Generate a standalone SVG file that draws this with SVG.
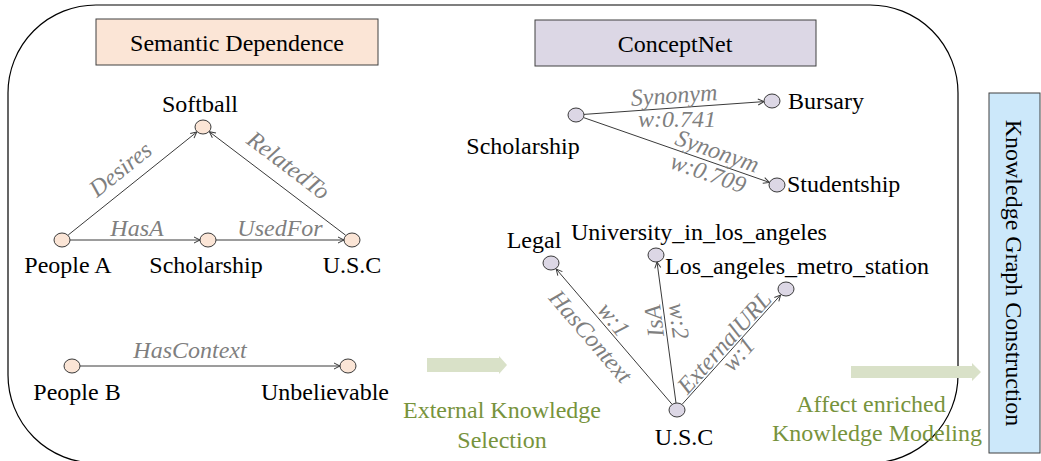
<svg xmlns="http://www.w3.org/2000/svg" width="1041" height="461" viewBox="0 0 1041 461">
<defs>
<style>
text{font-family:"Liberation Serif","Times New Roman",serif;font-size:24px;fill:#000}
.lbl{font-style:italic;fill:#7f7f7f}
.grn{fill:#77933c}
.mid{text-anchor:middle}
.edge{stroke:#3a3a3a;stroke-width:1;fill:none;marker-end:url(#ah)}
.pn{fill:#fbe5d6;stroke:#3a3a3a;stroke-width:1}
.cn{fill:#dcd7e5;stroke:#3a3a3a;stroke-width:1}
.box{stroke:#404040;stroke-width:1}
.garrow{fill:#d9e1c8}
</style>
<marker id="ah" markerWidth="8" markerHeight="8" refX="7" refY="4" orient="auto" markerUnits="userSpaceOnUse">
<path d="M1,1 L7,4 L1,7" fill="none" stroke="#3a3a3a" stroke-width="1"/>
</marker>
</defs>
<rect width="1041" height="461" fill="#fff"/>
<rect id="frame" x="8" y="5" width="950" height="458" rx="88" ry="88" fill="none" stroke="#000" stroke-width="1.2"/>

<g id="semantic-dependence">
<rect class="box" x="96" y="19" width="282" height="46" fill="#fbe5d6"/>
<text class="mid" x="237" y="51">Semantic Dependence</text>
</g>
<g id="conceptnet">
<rect class="box" x="535" y="20" width="281" height="46" fill="#dcd7e5"/>
<text class="mid" x="675" y="52">ConceptNet</text>
</g>
<g id="kg-construction">
<rect class="box" x="989" y="93" width="51" height="360" fill="#cce8fa"/>
<text class="mid" transform="translate(1014,273) rotate(90)" y="8">Knowledge Graph Construction</text>
</g>

<g id="connectors">
<line class="edge" x1="68.2" y1="235" x2="196.8" y2="132"/>
<line class="edge" x1="345.6" y1="235.2" x2="209.4" y2="131.8"/>
<line class="edge" x1="70" y1="240" x2="200" y2="240"/>
<line class="edge" x1="216" y1="240" x2="344" y2="240"/>
<line class="edge" x1="80" y1="366" x2="340" y2="366"/>
<line class="edge" x1="584" y1="114.4" x2="764" y2="101.6"/>
<line class="edge" x1="583.6" y1="117.6" x2="769.4" y2="182.4"/>
<line class="edge" x1="671.8" y1="404" x2="556.2" y2="269"/>
<line class="edge" x1="676" y1="403" x2="657" y2="262"/>
<line class="edge" x1="682.4" y1="404" x2="780.6" y2="295"/>
<text class="lbl mid" transform="translate(121,170) rotate(-38.7)" y="7">Desires</text>
<text class="lbl mid" transform="translate(288,166) rotate(37.2)" y="7">RelatedTo</text>
<text class="lbl mid" x="137" y="236">HasA</text>
<text class="lbl mid" x="280" y="236">UsedFor</text>
<text class="lbl mid" x="190" y="358">HasContext</text>
<text class="lbl mid" transform="translate(674,96) rotate(-4)" y="7">Synonym</text>
<text class="lbl mid" x="677" y="127">w:0.741</text>
<text class="lbl mid" transform="translate(717,152) rotate(19.2)" y="7">Synonym</text>
<text class="lbl mid" transform="translate(708,174) rotate(19.2)" y="7">w:0.709</text>
<text class="lbl mid" transform="translate(590,337) rotate(49.4)" y="7">HasContext</text>
<text class="lbl mid" transform="translate(613,320) rotate(52)" y="7">w:1</text>
<text class="lbl mid" transform="translate(655,321) rotate(-97)" y="7">IsA</text>
<text class="lbl mid" transform="translate(678,321) rotate(82.3)" y="7">w:2</text>
<text class="lbl mid" transform="translate(725,343) rotate(-48)" y="7">ExternalURL</text>
<text class="lbl mid" transform="translate(739,355) rotate(-48)" y="7">w:1</text>
</g>

<g id="n-softball"><ellipse class="pn" cx="203" cy="127" rx="8" ry="7"/><text class="mid" x="200" y="112">Softball</text></g>
<g id="n-peopleA"><ellipse class="pn" cx="62" cy="240" rx="8" ry="7"/><text class="mid" x="68" y="273">People A</text></g>
<g id="n-scholarship"><ellipse class="pn" cx="208" cy="240" rx="8" ry="7"/><text class="mid" x="206" y="273">Scholarship</text></g>
<g id="n-usc"><ellipse class="pn" cx="352" cy="240" rx="8" ry="7"/><text class="mid" x="352" y="273">U.S.C</text></g>
<g id="n-peopleB"><ellipse class="pn" cx="72" cy="366" rx="8" ry="7"/><text class="mid" x="77" y="400">People B</text></g>
<g id="n-unbelievable"><ellipse class="pn" cx="348" cy="366" rx="8" ry="7"/><text class="mid" x="325" y="400">Unbelievable</text></g>

<g id="c-scholarship"><ellipse class="cn" cx="576" cy="115" rx="8" ry="7"/><text class="mid" x="523" y="154">Scholarship</text></g>
<g id="c-bursary"><ellipse class="cn" cx="772" cy="101" rx="8" ry="7"/><text x="788" y="109">Bursary</text></g>
<g id="c-studentship"><ellipse class="cn" cx="777" cy="185" rx="8" ry="7"/><text x="787" y="192">Studentship</text></g>
<g id="c-legal"><ellipse class="cn" cx="551" cy="263" rx="8" ry="7"/><text class="mid" x="534" y="248">Legal</text></g>
<g id="c-university"><ellipse class="cn" cx="656" cy="255" rx="8" ry="7"/><text x="571" y="240">University_in_los_angeles</text></g>
<g id="c-metro"><ellipse class="cn" cx="786" cy="289" rx="8" ry="7"/><text x="665" y="274">Los_angeles_metro_station</text></g>
<g id="c-usc"><ellipse class="cn" cx="677" cy="410" rx="8" ry="7"/><text class="mid" x="684" y="445">U.S.C</text></g>

<g id="step-selection">
<path class="garrow" d="M427,358 H499 V356 L507,365 L499,374 V372 H427 Z"/>
<text class="grn mid" x="502" y="418">External Knowledge</text>
<text class="grn mid" x="502" y="448">Selection</text>
</g>
<g id="step-modeling">
<path class="garrow" d="M851,366 H972 V363 L981,372 L972,381 V378 H851 Z"/>
<text class="grn mid" x="871" y="412">Affect enriched</text>
<text class="grn mid" x="877" y="441">Knowledge Modeling</text>
</g>
</svg>
